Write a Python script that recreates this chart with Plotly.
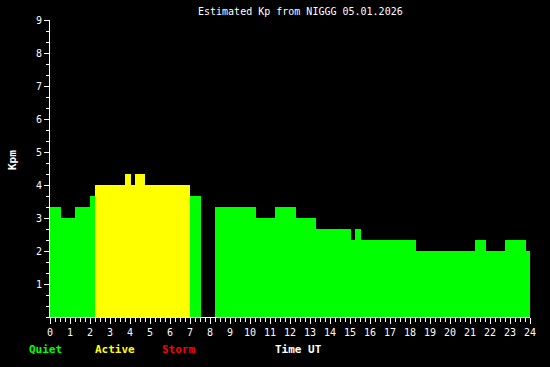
import plotly.graph_objects as go

# Data (hours UT, Kp estimate)
seg_start = [0, 0.55, 1.25, 2.0, 2.25, 3.75, 4.05, 4.25, 4.75, 7.0, 8.25, 10.3, 11.25,
             12.3, 13.3, 15.05, 15.25, 15.55, 18.3, 21.25, 21.8, 22.75, 23.8]
seg_end = [0.55, 1.25, 2.0, 2.25, 3.75, 4.05, 4.25, 4.75, 7.0, 7.55, 10.3, 11.25, 12.3,
           13.3, 15.05, 15.25, 15.55, 18.3, 21.25, 21.8, 22.75, 23.8, 24.0]
kp_values = [3.333, 3.0, 3.333, 3.667, 4.0, 4.333, 4.0, 4.333, 4.0, 3.667, 3.333, 3.0, 3.333,
             3.0, 2.667, 2.333, 2.667, 2.333, 2.0, 2.333, 2.0, 2.333, 2.0]
x_tick_labels = [str(h) for h in range(0, 25)]
y_tick_labels = [str(k) for k in range(1, 10)]

QUIET = "#00ff00"
ACTIVE = "#ffff00"
STORM = "#ff0000"


def level_color(v):
    if v >= 5:
        return STORM
    if v >= 4:
        return ACTIVE
    return QUIET


widths = [e - s for s, e in zip(seg_start, seg_end)]
colors = [level_color(v) for v in kp_values]

fig = go.Figure()
fig.add_trace(go.Bar(
    x=seg_start, y=kp_values, width=widths, offset=0, base=0,
    marker=dict(color=colors, line=dict(width=0)),
    hoverinfo="skip", showlegend=False,
))

mono = "DejaVu Sans Mono"
fig.update_layout(
    width=550, height=367,
    margin=dict(l=50, r=20, t=20, b=50),
    paper_bgcolor="black", plot_bgcolor="black",
    font=dict(family=mono, color="white", size=9),
    showlegend=False,
    xaxis=dict(
        range=[0, 24], tickvals=list(range(0, 25)), ticktext=x_tick_labels,
        showgrid=False, zeroline=False, showline=True, linecolor="white", linewidth=1,
        ticks="outside", ticklen=6, tickcolor="white", tickwidth=1,
        minor=dict(dtick=0.25, tick0=0, ticks="outside", ticklen=4, tickcolor="white", showgrid=False),
        tickfont=dict(family=mono, size=10, color="white"),
    ),
    yaxis=dict(
        range=[0, 9], tickvals=list(range(1, 10)), ticktext=y_tick_labels,
        showgrid=False, zeroline=False, showline=True, linecolor="white", linewidth=1,
        ticks="outside", ticklen=5, tickcolor="white", tickwidth=1,
        minor=dict(dtick=1/3, tick0=0, ticks="outside", ticklen=3, tickcolor="white", showgrid=False),
        tickfont=dict(family=mono, size=10, color="white"),
    ),
)

W, H = 480.0, 297.0  # plot area size in px


def px_x(px):
    return (px - 50) / W


def px_y(py):
    return (317 - py) / H


anns = [
    dict(text="Estimated Kp from NIGGG 05.01.2026", x=px_x(300), y=px_y(12),
         font=dict(family=mono, size=10, color="white")),
    dict(text="<b>Kpm</b>", x=px_x(12), y=px_y(160), textangle=-90,
         font=dict(family=mono, size=11, color="white")),
    dict(text="<b>Quiet</b>", x=px_x(45), y=px_y(349), font=dict(family=mono, size=11, color=QUIET)),
    dict(text="<b>Active</b>", x=px_x(115), y=px_y(349), font=dict(family=mono, size=11, color=ACTIVE)),
    dict(text="<b>Storm</b>", x=px_x(178), y=px_y(349), font=dict(family=mono, size=11, color=STORM)),
    dict(text="<b>Time UT</b>", x=px_x(298), y=px_y(349), font=dict(family=mono, size=11, color="white")),
]
for a in anns:
    a.update(xref="paper", yref="paper", showarrow=False, xanchor="center", yanchor="middle")
    fig.add_annotation(**a)

fig.write_html("out.html")
